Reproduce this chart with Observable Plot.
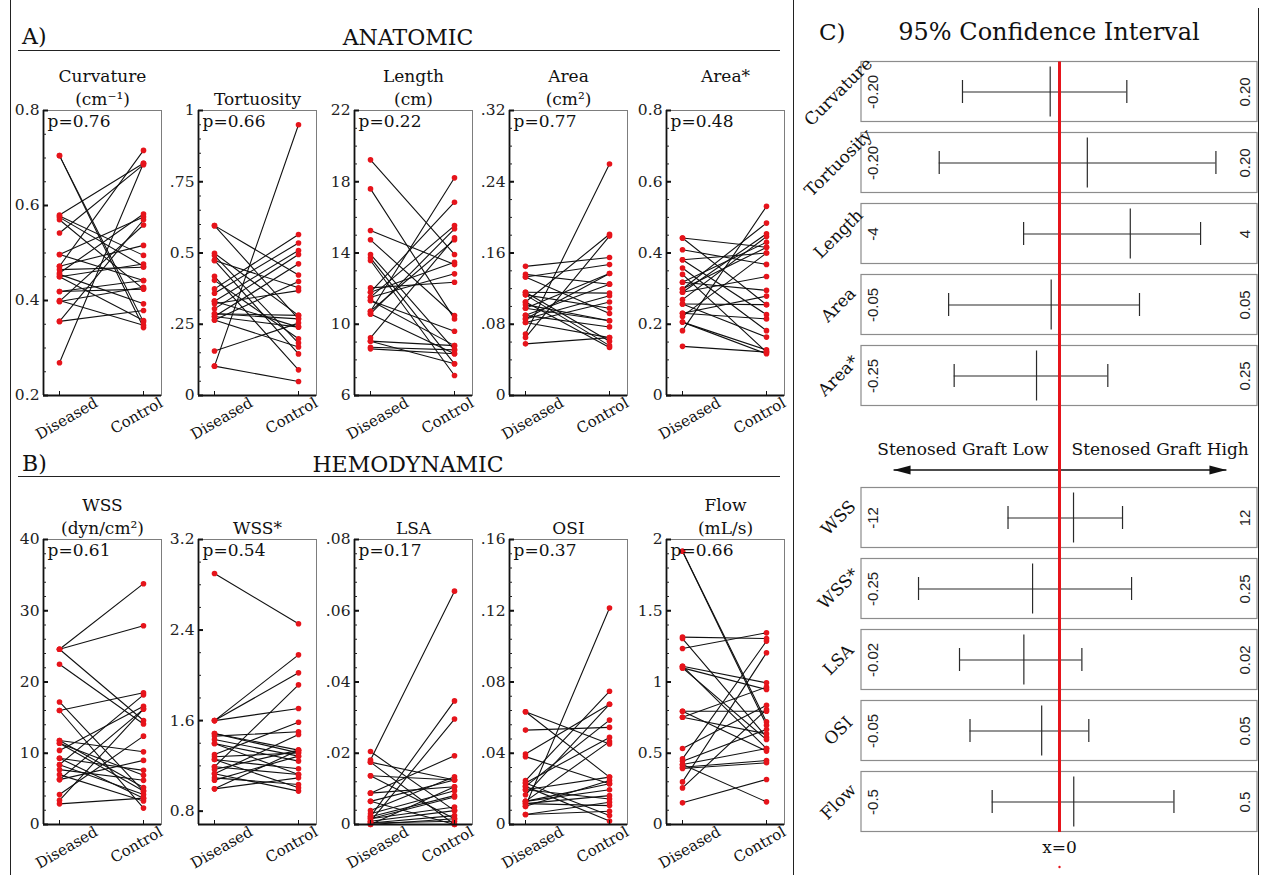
<!DOCTYPE html>
<html><head><meta charset="utf-8">
<script src="https://cdn.jsdelivr.net/npm/d3@7"></script>
<script src="https://cdn.jsdelivr.net/npm/@observablehq/plot@0.6"></script>
<style>
html,body{margin:0;padding:0;background:#fff;}
#fig{position:relative;width:1267px;height:875px;overflow:hidden;font-family:"DejaVu Serif",serif;color:#111;}
.abs{position:absolute;white-space:nowrap;}
.hl{position:absolute;border-top:1.3px solid #222;height:0;}
.vl{position:absolute;border-left:1.3px solid #222;width:0;}
</style></head>
<body><div id="fig"></div>
<script>
// ---------------- DATA ----------------
const groups = ["Diseased", "Control"];

const curvatureDiseased = [0.705,0.705,0.580,0.578,0.575,0.570,0.542,0.497,0.497,0.472,0.472,0.458,0.455,0.450,0.450,0.419,0.419,0.398,0.398,0.356,0.356,0.269,0.465,0.400];
const curvatureControl  = [0.355,0.343,0.689,0.495,0.472,0.424,0.686,0.576,0.442,0.716,0.516,0.582,0.393,0.358,0.477,0.442,0.424,0.559,0.428,0.379,0.570,0.689,0.470,0.348];

const tortuosityDiseased = [0.596,0.596,0.499,0.491,0.474,0.474,0.418,0.404,0.374,0.359,0.331,0.322,0.304,0.287,0.277,0.265,0.277,0.265,0.156,0.103,0.103,0.287,0.331];
const tortuosityControl  = [0.423,0.269,0.281,0.184,0.378,0.146,0.090,0.199,0.565,0.535,0.509,0.368,0.495,0.281,0.240,0.170,0.462,0.400,0.254,0.950,0.049,0.269,0.240];

const lengthDiseased = [19.23,17.6,15.26,14.74,13.92,13.73,13.58,12.04,11.8,11.52,11.33,11.52,10.73,10.58,10.73,11.33,10.58,9.24,9.05,8.71,8.62,11.8,9.05];
const lengthControl  = [13.92,10.3,13.35,10.49,8.56,7.78,7.12,12.36,16.85,15.54,9.61,12.83,18.22,15.36,14.74,8.8,8.34,14.85,8.8,8.56,8.34,13.48,7.78];

const areaDiseased = [0.145,0.136,0.133,0.133,0.116,0.116,0.113,0.113,0.105,0.105,0.102,0.098,0.090,0.090,0.086,0.082,0.082,0.069,0.065,0.058,0.098,0.086];
const areaControl  = [0.155,0.125,0.092,0.147,0.061,0.115,0.056,0.098,0.181,0.054,0.084,0.137,0.125,0.077,0.112,0.105,0.065,0.260,0.179,0.065,0.084,0.137];

const areaStarDiseased = [0.442,0.442,0.409,0.381,0.381,0.358,0.340,0.318,0.299,0.290,0.290,0.269,0.257,0.231,0.222,0.206,0.206,0.182,0.138,0.257,0.318,0.231,0.299];
const areaStarControl  = [0.416,0.255,0.368,0.400,0.227,0.182,0.122,0.430,0.484,0.454,0.334,0.446,0.255,0.279,0.400,0.117,0.128,0.531,0.122,0.164,0.295,0.215,0.416];

const wssDiseased = [24.6,24.6,24.6,22.5,17.2,16.0,16.0,11.8,11.8,11.4,10.4,9.3,9.3,8.4,8.4,7.7,7.0,6.3,6.3,4.2,3.4,2.9,11.4];
const wssControl  = [33.8,27.9,14.6,14.1,4.7,18.5,2.3,10.2,5.2,6.9,16.6,7.6,3.7,18.2,4.2,6.2,3.3,16.2,9.0,12.4,16.2,3.7,4.7];

const wssStarDiseased = [2.9,1.6,1.6,1.6,1.486,1.486,1.463,1.433,1.398,1.3,1.28,1.256,1.192,1.192,1.168,1.13,1.094,1.074,0.997,0.997,1.13,1.256,1.398];
const wssStarControl  = [2.455,2.181,2.022,1.707,1.339,1.315,1.501,1.286,1.242,1.586,1.315,1.174,1.916,1.124,1.339,1.477,1.036,1.286,1.339,1.094,0.977,1.006,1.124];

const lsaDiseased = [0.0181,0.0205,0.0175,0.0137,0.0022,0.0009,0.0088,0.0088,0.0065,0.0039,0.0030,0.0022,0.0016,0.0016,0.0009,0.0004,0.0000,0.0004,0.0000,0.0065,0.0137,0.0175];
const lsaControl  = [0.0655,0.0039,0.0000,0.0125,0.0347,0.0296,0.0193,0.0106,0.0125,0.0134,0.0095,0.0081,0.0077,0.0049,0.0039,0.0025,0.0016,0.0009,0.0106,0.0000,0.0016,0.0125];

const osiDiseased = [0.0633,0.0633,0.053,0.0396,0.0381,0.0102,0.0247,0.0233,0.0214,0.0214,0.0195,0.0167,0.013,0.013,0.0117,0.0117,0.0102,0.0056,0.0056,0.0233,0.0195,0.013];
const osiControl  = [0.0452,0.0266,0.0545,0.0675,0.0229,0.1215,0.0748,0.0489,0.0586,0.0019,0.0143,0.0675,0.0465,0.0195,0.0162,0.0106,0.0247,0.0125,0.0074,0.005,0.0266,0.0229];

const flowDiseased = [1.918,1.918,1.315,1.305,1.235,1.111,1.111,1.099,1.099,0.795,0.753,0.795,0.533,0.461,0.444,0.421,0.402,0.393,0.299,0.257,0.152,0.421,0.753];
const flowControl  = [0.720,0.697,1.305,0.613,1.345,0.994,0.533,0.947,0.596,0.795,0.636,0.515,0.837,1.287,0.667,0.159,0.449,0.433,1.205,0.807,0.316,0.533,0.964];

// panel titles and p-values
const panelTitles = ["Curvature\n(cm⁻¹)", "Tortuosity", "Length\n(cm)", "Area\n(cm²)", "Area*\n ",
                     "WSS\n(dyn/cm²)", "WSS*", "LSA", "OSI", "Flow\n(mL/s)"];
const panelP = ["p=0.76","p=0.66","p=0.22","p=0.77","p=0.48","p=0.61","p=0.54","p=0.17","p=0.37","p=0.66"];

// axis domains and tick labels
const curvatureTicks = [0.2,0.4,0.6,0.8],       curvatureTickLabels = ["0.2","0.4","0.6","0.8"];
const tortuosityTicks = [0,0.25,0.5,0.75,1],    tortuosityTickLabels = ["0",".25","0.5",".75","1"];
const lengthTicks = [6,10,14,18,22],            lengthTickLabels = ["6","10","14","18","22"];
const areaTicks = [0,0.08,0.16,0.24,0.32],      areaTickLabels = ["0",".08",".16",".24",".32"];
const areaStarTicks = [0,0.2,0.4,0.6,0.8],      areaStarTickLabels = ["0","0.2","0.4","0.6","0.8"];
const wssTicks = [0,10,20,30,40],               wssTickLabels = ["0","10","20","30","40"];
const wssStarTicks = [0.8,1.6,2.4,3.2],         wssStarTickLabels = ["0.8","1.6","2.4","3.2"];
const lsaTicks = [0,0.02,0.04,0.06,0.08],       lsaTickLabels = ["0",".02",".04",".06",".08"];
const osiTicks = [0,0.04,0.08,0.12,0.16],       osiTickLabels = ["0",".04",".08",".12",".16"];
const flowTicks = [0,0.5,1,1.5,2],              flowTickLabels = ["0","0.5","1","1.5","2"];
const panelDomains = [[0.2,0.8],[0,1],[6,22],[0,0.32],[0,0.8],[0,40],[0.682,3.2],[0,0.08],[0,0.16],[0,2]];
const panelMinorSteps = [0.05,0.05,1,0.02,0.05,2,0.2,0.004,0.008,0.1];

// 95% confidence intervals (Diseased - Control)
const ciNames = ["Curvature","Tortuosity","Length","Area","Area*","WSS","WSS*","LSA","OSI","Flow"];
const ciHalfRange = [0.20,0.20,4,0.05,0.25,12,0.25,0.02,0.05,0.5];
const ciRangeLabels = ["0.20","0.20","4","0.05","0.25","12","0.25","0.02","0.05","0.5"];
const ciLower = [-0.098,-0.1215,-0.725,-0.028,-0.133,-3.12,-0.178,-0.0101,-0.0226,-0.170];
const ciMean  = [-0.0094,0.0281,1.43,-0.0021,-0.029,0.85,-0.034,-0.0036,-0.0045,0.036];
const ciUpper = [0.068,0.158,2.85,0.0202,0.061,3.82,0.091,0.00226,0.0074,0.289];
const ciDirections = ["Stenosed Graft Low","Stenosed Graft High"];
const ciArrowSpan = [-0.838, 0.843];

// ---------------- LAYOUT ----------------
const SERIF = '"DejaVu Serif", serif';
const SANS = '"Liberation Sans Narrow","Liberation Sans", sans-serif';
const RED = "#e6141b";
const FW = 118, FH = 285;
const ML = 46, MR = 14, MT = 80, MB = 50;
const X_DOMAIN = [-16/84, 1 + 18/84];
const frameLefts = [43, 198, 354, 509, 666];
const rowFrameTops = [110, 539];

const fig = document.getElementById("fig");
function addDiv(cls, css, text) {
  const el = document.createElement("div");
  el.className = cls; el.style.cssText = css;
  if (text != null) el.textContent = text;
  fig.appendChild(el); return el;
}

const series = [
  [curvatureDiseased, curvatureControl, curvatureTicks, curvatureTickLabels],
  [tortuosityDiseased, tortuosityControl, tortuosityTicks, tortuosityTickLabels],
  [lengthDiseased, lengthControl, lengthTicks, lengthTickLabels],
  [areaDiseased, areaControl, areaTicks, areaTickLabels],
  [areaStarDiseased, areaStarControl, areaStarTicks, areaStarTickLabels],
  [wssDiseased, wssControl, wssTicks, wssTickLabels],
  [wssStarDiseased, wssStarControl, wssStarTicks, wssStarTickLabels],
  [lsaDiseased, lsaControl, lsaTicks, lsaTickLabels],
  [osiDiseased, osiControl, osiTicks, osiTickLabels],
  [flowDiseased, flowControl, flowTicks, flowTickLabels]
];

function pairedPanel(k) {
  const [dis, con, ticks, tickLabels] = series[k];
  const rows = dis.map((d, i) => ({id: i, d, c: con[i]}));
  const pts = rows.flatMap(r => [{id: r.id, g: 0, v: r.d}, {id: r.id, g: 1, v: r.c}]);
  const [lo, hi] = panelDomains[k];
  const step = panelMinorSteps[k];
  const fmt = new Map(ticks.map((t, i) => [t, tickLabels[i]]));
  const minor = d3.range(Math.ceil(lo / step - 1e-6), Math.floor(hi / step + 1e-6) + 1).map(j => +(j * step).toFixed(6));
  return Plot.plot({
    width: ML + FW + MR, height: MT + FH + MB,
    marginLeft: ML, marginRight: MR, marginTop: MT, marginBottom: MB,
    style: {background: "transparent", overflow: "visible", fontFamily: SERIF, color: "#111"},
    x: {domain: X_DOMAIN, axis: null},
    y: {domain: [lo, hi], axis: null},
    marks: [
      Plot.frame({stroke: "#7d7d7d", strokeWidth: 1}),
      Plot.line(pts, {x: "g", y: "v", z: "id", stroke: "#111", strokeWidth: 1.1}),
      Plot.dot(pts, {x: "g", y: "v", r: 2.8, fill: RED, stroke: "none"}),
      Plot.ruleX([X_DOMAIN[0]], {stroke: "#111", strokeWidth: 1.8}),
      Plot.ruleY([lo], {stroke: "#111", strokeWidth: 1.8}),
      Plot.tickY(minor, {y: d => d, insetRight: FW - 3, stroke: "#222", strokeWidth: 1}),
      Plot.tickY(ticks, {y: d => d, insetRight: FW - 5, stroke: "#111", strokeWidth: 2}),
      Plot.tickX([0, 1], {x: d => d, insetTop: FH - 4, stroke: "#111"}),
      Plot.text(ticks, {y: d => d, frameAnchor: "left", dx: -4, textAnchor: "end", text: d => fmt.get(d), fontSize: 15.5, fill: "#222"}),
      Plot.text([panelP[k]], {frameAnchor: "top-left", dx: 4, dy: 4, lineAnchor: "top", textAnchor: "start", fontSize: 17}),
      Plot.text([panelTitles[k]], {frameAnchor: "top", dy: -6, lineAnchor: "bottom", lineHeight: 1.3, fontSize: 17}),
      Plot.text([0], {x: d => d, text: d => groups[d], frameAnchor: "bottom", rotate: -30, textAnchor: "end", lineAnchor: "top", dx: 34, dy: 1, fontSize: 15}),
      Plot.text([1], {x: d => d, text: d => groups[d], frameAnchor: "bottom", rotate: -30, textAnchor: "end", lineAnchor: "top", dx: 15, dy: 1, fontSize: 15})
    ]
  });
}

for (let k = 0; k < 10; k++) {
  const row = Math.floor(k / 5), col = k % 5;
  const svg = pairedPanel(k);
  const wrap = document.createElement("div");
  wrap.className = "abs";
  wrap.style.left = (frameLefts[col] - ML) + "px";
  wrap.style.top = (rowFrameTops[row] - MT) + "px";
  wrap.appendChild(svg);
  fig.appendChild(wrap);
}

// ---------------- CI PANEL ----------------
const GAP = " ";
const ciRows = ciNames.map((name, i) => ({
  name,
  lo: ciLower[i] / ciHalfRange[i],
  mean: ciMean[i] / ciHalfRange[i],
  hi: ciUpper[i] / ciHalfRange[i],
  left: "-" + ciRangeLabels[i],
  right: ciRangeLabels[i]
}));
const ciDomain = [...ciNames.slice(0, 5), GAP, ...ciNames.slice(5)];
const headRight = {draw(ctx) { ctx.moveTo(9, 0); ctx.lineTo(-8, -4.5); ctx.lineTo(-8, 4.5); ctx.closePath(); }};
const headLeft = {draw(ctx) { ctx.moveTo(-9, 0); ctx.lineTo(8, -4.5); ctx.lineTo(8, 4.5); ctx.closePath(); }};

const ciPlot = Plot.plot({
  width: 472, height: 875,
  marginLeft: 66, marginRight: 10, marginTop: 56, marginBottom: 37.5,
  style: {background: "transparent", overflow: "visible", fontFamily: SERIF, color: "#111"},
  x: {domain: [-1, 1], axis: null},
  y: {type: "band", domain: ciDomain, padding: 0, axis: null},
  marks: [
    Plot.barX(ciRows, {x1: -1, x2: 1, y: "name", fill: "white", stroke: "#8c8c8c", strokeWidth: 1.2, insetTop: 5.5, insetBottom: 5.5}),
    Plot.ruleY(ciRows, {y: "name", x1: "lo", x2: "hi", stroke: "#2a2a2a", strokeWidth: 1.2}),
    Plot.tickX(ciRows, {x: "lo", y: "name", insetTop: 24, insetBottom: 24, stroke: "#2a2a2a", strokeWidth: 1.2}),
    Plot.tickX(ciRows, {x: "hi", y: "name", insetTop: 24, insetBottom: 24, stroke: "#2a2a2a", strokeWidth: 1.2}),
    Plot.tickX(ciRows, {x: "mean", y: "name", insetTop: 10.5, insetBottom: 10.5, stroke: "#2a2a2a", strokeWidth: 1.2}),
    Plot.text(ciRows, {x: -1, y: "name", text: "left", rotate: -90, dx: 12, fontFamily: SANS, fontSize: 15, fill: "#222"}),
    Plot.text(ciRows, {x: 1, y: "name", text: "right", rotate: -90, dx: -12, fontFamily: SANS, fontSize: 15, fill: "#222"}),
    Plot.text(ciRows, {x: -1, y: "name", text: "name", rotate: -45, dx: -23, fontSize: 17}),
    Plot.link([ciArrowSpan], {x1: d => d[0], x2: d => d[1], y1: () => GAP, y2: () => GAP, dy: 23, stroke: "#111", strokeWidth: 1.6}),
    Plot.dot([ciArrowSpan[0]], {x: d => d, y: () => GAP, dy: 23, dx: 9, symbol: headLeft, fill: "#111", stroke: "none"}),
    Plot.dot([ciArrowSpan[1]], {x: d => d, y: () => GAP, dy: 23, dx: -9, symbol: headRight, fill: "#111", stroke: "none"}),
    Plot.text([ciDirections[0]], {x: 0, y: () => GAP, dx: -11, dy: 3, textAnchor: "end", fontSize: 17}),
    Plot.text([ciDirections[1]], {x: 0, y: () => GAP, dx: 12, dy: 3, textAnchor: "start", fontSize: 17}),
    Plot.ruleX([0], {stroke: RED, strokeWidth: 3, insetTop: 5.5, insetBottom: 5.5}),
    Plot.text(["x=0"], {x: 0, frameAnchor: "bottom", dy: 15, fontSize: 17}),
    Plot.dot([0], {x: d => d, frameAnchor: "bottom", dy: 29, r: 1.2, fill: RED, stroke: "none"})
  ]
});
const ciWrap = document.createElement("div");
ciWrap.className = "abs";
ciWrap.style.left = "795px"; ciWrap.style.top = "0px";
ciWrap.appendChild(ciPlot);
fig.appendChild(ciWrap);

// ---------------- HEADINGS & RULES ----------------
addDiv("abs", "left:22px;top:26px;font-size:22px;line-height:22px;", "A)");
addDiv("abs", "left:258px;top:27px;width:300px;text-align:center;font-size:22px;line-height:22px;", "ANATOMIC");
addDiv("hl", "left:18px;top:50px;width:762px;");
addDiv("abs", "left:22px;top:453px;font-size:22px;line-height:22px;", "B)");
addDiv("abs", "left:258px;top:454px;width:300px;text-align:center;font-size:22px;line-height:22px;", "HEMODYNAMIC");
addDiv("hl", "left:18px;top:476px;width:762px;");
addDiv("abs", "left:819px;top:21px;font-size:23px;line-height:23px;", "C)");
addDiv("abs", "left:879px;top:20px;width:340px;text-align:center;font-size:24px;line-height:24px;", "95% Confidence Interval");
addDiv("vl", "left:10px;top:0px;height:875px;");
addDiv("vl", "left:793px;top:0px;height:875px;");
addDiv("vl", "left:1258px;top:8px;height:867px;");
</script>
</body></html>
